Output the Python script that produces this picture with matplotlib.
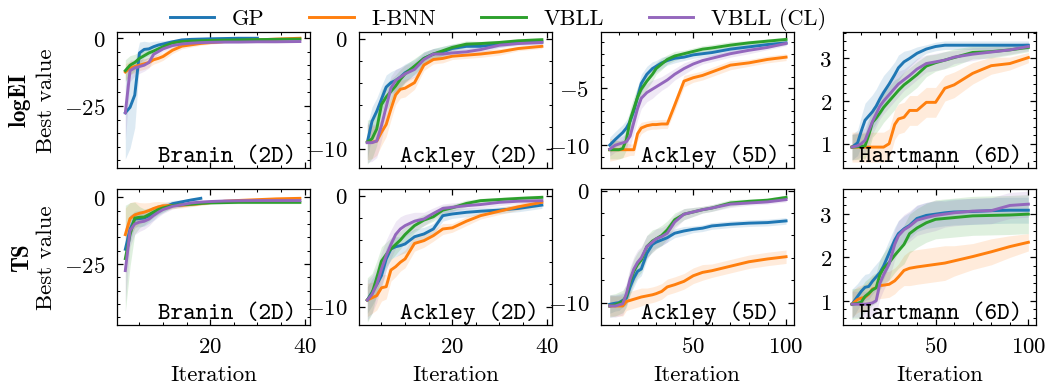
import numpy as np
import matplotlib.pyplot as plt
from matplotlib.ticker import MultipleLocator, AutoMinorLocator

plt.rcParams.update({
    "font.family": "serif",
    "font.serif": ["cmr10"],
    "mathtext.fontset": "cm",
    "axes.formatter.use_mathtext": True,
    "font.size": 11,
    "axes.linewidth": 0.6,
    "xtick.direction": "in",
    "ytick.direction": "in",
    "xtick.top": True,
    "ytick.right": True,
    "xtick.minor.visible": True,
    "ytick.minor.visible": True,
    "xtick.major.size": 3,
    "ytick.major.size": 3,
    "xtick.minor.size": 1.5,
    "ytick.minor.size": 1.5,
    "xtick.major.width": 0.6,
    "ytick.major.width": 0.6,
    "xtick.minor.width": 0.5,
    "ytick.minor.width": 0.5,
    "xtick.major.pad": 5.5,
    "ytick.major.pad": 5.5,
    "xtick.labelsize": 11,
    "ytick.labelsize": 11,
})

nan = np.nan

methods = ["GP", "I-BNN", "VBLL", "VBLL (CL)"]
colors = ["#1f77b4", "#ff7f0e", "#2ca02c", "#9467bd"]

# iteration grids
iters_short = [2, 3, 4, 5, 6, 7, 8, 9, 10, 12, 14, 16, 18, 20, 23, 26, 30, 34, 39]
iters_long = [5, 8, 10, 12, 14, 16, 18, 20, 22, 25, 28, 30, 33, 36, 40, 45, 50, 55, 60, 70, 80, 90, 100]

# ---- logEI, Branin (2D)
ei_branin_gp = [-27.5, -25.5, -21, -5.5, -4.2, -4.0, -3.2, -2.6, -2.2, -1.4, -0.7, -0.5, -0.4, -0.3, -0.2, -0.1, -0.1, nan, nan]
ei_branin_gp_sd = [17, 15, 12, 4, 3, 2.5, 2, 1.5, 1.2, 0.8, 0.5, 0.4, 0.3, 0.3, 0.2, 0.2, 0.2, nan, nan]
ei_branin_ibnn = [-12.5, -11, -10.5, -10, -9.5, -9, -8, -7.5, -6.8, -4.5, -3, -2.5, -2, -1.7, -1.3, -1, -0.7, -0.4, -0.1]
ei_branin_ibnn_sd = [3, 2.5, 2.2, 2, 2, 1.8, 1.6, 1.5, 1.4, 1.2, 1, 0.8, 0.7, 0.6, 0.5, 0.4, 0.3, 0.3, 0.2]
ei_branin_vbll = [-12, -10, -9, -7.5, -6.5, -5.5, -4.8, -4, -3.2, -1.8, -1.3, -1.1, -1, -0.9, -0.8, -0.7, -0.6, -0.5, -0.4]
ei_branin_vbll_sd = [4, 3.5, 3, 2.5, 2, 1.8, 1.5, 1.3, 1, 0.8, 0.6, 0.5, 0.5, 0.4, 0.4, 0.3, 0.3, 0.3, 0.3]
ei_branin_cl = [-27.5, -12, -11, -10.5, -10, -9, -6, -5, -4, -2.8, -2.2, -1.9, -1.7, -1.6, -1.5, -1.5, -1.4, -1.4, -1.3]
ei_branin_cl_sd = [10, 4, 3, 2.5, 2.2, 2, 1.5, 1.2, 1, 0.8, 0.6, 0.5, 0.4, 0.4, 0.4, 0.3, 0.3, 0.3, 0.3]

# ---- logEI, Ackley (2D)
ei_ack2_gp = [-9.4, -7.5, -6.6, -5.5, -4.4, -4.0, -3.8, -3.5, -3.1, -2.6, -1.8, -1.4, -1.2, -0.9, -0.7, -0.7, -0.5, -0.3, -0.3]
ei_ack2_gp_sd = [1.5, 1.3, 1.2, 1.2, 1.1, 1, 1, 0.9, 0.8, 0.7, 0.6, 0.5, 0.5, 0.4, 0.3, 0.3, 0.3, 0.2, 0.2]
ei_ack2_ibnn = [-9.4, -9.4, -9.3, -8.5, -7.8, -6.4, -5.1, -4.6, -4.5, -4.0, -2.4, -1.9, -1.8, -1.6, -1.5, -1.4, -1.2, -0.9, -0.7]
ei_ack2_ibnn_sd = [1.6, 1.5, 1.3, 1.2, 1.1, 1, 0.9, 0.8, 0.8, 0.6, 0.5, 0.4, 0.4, 0.3, 0.3, 0.3, 0.3, 0.2, 0.2]
ei_ack2_vbll = [-9.4, -9.1, -8.2, -6.0, -5.3, -4.8, -4.3, -3.7, -3.2, -2.5, -1.8, -1.4, -1.1, -0.8, -0.5, -0.45, -0.35, -0.2, -0.1]
ei_ack2_vbll_sd = [2, 1.8, 1.5, 1.3, 1.2, 1.1, 1, 0.9, 0.8, 0.7, 0.6, 0.5, 0.4, 0.3, 0.3, 0.2, 0.2, 0.2, 0.2]
ei_ack2_cl = [-9.45, -9.45, -9.3, -7.9, -6.2, -4.5, -3.8, -3.5, -3.2, -2.8, -1.9, -1.4, -1.4, -1.3, -1.2, -1.0, -0.6, -0.45, -0.35]
ei_ack2_cl_sd = [1.8, 1.7, 1.5, 1.3, 1.2, 1.1, 1, 0.9, 0.8, 0.7, 0.6, 0.5, 0.4, 0.3, 0.3, 0.3, 0.2, 0.2, 0.2]

# ---- logEI, Ackley (5D)
ei_ack5_gp = [-10, -9.5, -9.2, -8.9, -8.5, -7.9, -7.0, -5.8, -4.6, -3.8, -3.3, -3.1, -2.8, -2.6, -2.4, -2.3, -2.1, -2.0, -1.9, -1.6, -1.4, -1.2, -1.05]
ei_ack5_gp_sd = [0.7, 0.7, 0.7, 0.7, 0.7, 0.8, 0.9, 0.9, 0.8, 0.7, 0.6, 0.5, 0.5, 0.4, 0.4, 0.3, 0.3, 0.3, 0.3, 0.3, 0.3, 0.2, 0.2]
ei_ack5_ibnn = [-10.4, -10.4, -10.4, -10.4, -10.4, -10.4, -10.4, -9.0, -8.5, -8.3, -8.2, -8.2, -8.15, -8.15, -6.5, -4.4, -4.1, -3.9, -3.6, -3.0, -2.8, -2.5, -2.3]
ei_ack5_ibnn_sd = [1, 0.9, 0.8, 0.7, 0.6, 0.5, 0.5, 0.6, 0.5, 0.4, 0.4, 0.4, 0.4, 0.4, 0.5, 0.5, 0.4, 0.4, 0.4, 0.4, 0.3, 0.3, 0.3]
ei_ack5_vbll = [-10.4, -10.4, -10.4, -10.3, -9.5, -7.8, -6.8, -5.8, -5.1, -4.4, -3.8, -3.3, -2.9, -2.5, -2.2, -2.0, -1.8, -1.6, -1.5, -1.25, -1.05, -0.9, -0.75]
ei_ack5_vbll_sd = [0.8, 0.8, 0.8, 0.8, 0.9, 1.0, 1.0, 0.9, 0.8, 0.7, 0.6, 0.5, 0.5, 0.4, 0.4, 0.3, 0.3, 0.3, 0.3, 0.3, 0.2, 0.2, 0.2]
ei_ack5_cl = [-10.35, -10.0, -9.9, -9.8, -9.7, -9.2, -8.0, -6.8, -5.9, -5.4, -5.1, -4.9, -4.6, -4.3, -3.8, -3.3, -2.9, -2.6, -2.4, -2.0, -1.7, -1.45, -1.1]
ei_ack5_cl_sd = [0.6, 0.6, 0.6, 0.6, 0.7, 0.9, 1.0, 1.0, 0.9, 0.8, 0.8, 0.7, 0.6, 0.6, 0.5, 0.5, 0.4, 0.3, 0.3, 0.3, 0.3, 0.2, 0.2]

# ---- logEI, Hartmann (6D)
ei_hart_gp = [0.92, 1.02, 1.3, 1.55, 1.65, 1.75, 1.88, 2.05, 2.2, 2.4, 2.62, 2.78, 2.92, 3.0, 3.12, 3.22, 3.28, 3.31, 3.31, 3.31, 3.31, 3.31, 3.31]
ei_hart_gp_sd = [0.3, 0.3, 0.35, 0.4, 0.4, 0.4, 0.4, 0.4, 0.4, 0.35, 0.3, 0.3, 0.25, 0.2, 0.15, 0.1, 0.1, 0.1, 0.1, 0.1, 0.1, 0.1, 0.1]
ei_hart_ibnn = [0.92, 0.92, 0.92, 0.92, 0.92, 0.92, 0.92, 0.92, 0.92, 1.0, 1.45, 1.58, 1.62, 1.78, 1.78, 1.97, 1.97, 2.3, 2.38, 2.65, 2.83, 2.88, 3.02]
ei_hart_ibnn_sd = [0.35, 0.35, 0.35, 0.35, 0.35, 0.35, 0.35, 0.35, 0.35, 0.35, 0.35, 0.35, 0.35, 0.35, 0.35, 0.35, 0.35, 0.3, 0.3, 0.25, 0.2, 0.15, 0.12]
ei_hart_vbll = [0.92, 0.93, 0.94, 0.95, 1.2, 1.5, 1.6, 1.72, 1.85, 2.0, 2.15, 2.25, 2.38, 2.48, 2.62, 2.82, 2.9, 2.96, 3.02, 3.14, 3.16, 3.2, 3.26]
ei_hart_vbll_sd = [0.3, 0.3, 0.3, 0.3, 0.35, 0.35, 0.35, 0.35, 0.35, 0.35, 0.35, 0.3, 0.3, 0.3, 0.3, 0.25, 0.2, 0.2, 0.2, 0.15, 0.15, 0.12, 0.1]
ei_hart_cl = [0.92, 0.95, 1.0, 1.08, 1.3, 1.52, 1.7, 1.88, 2.0, 2.15, 2.3, 2.4, 2.5, 2.6, 2.75, 2.88, 2.92, 2.96, 3.03, 3.1, 3.15, 3.2, 3.28]
ei_hart_cl_sd = [0.3, 0.3, 0.3, 0.3, 0.3, 0.3, 0.3, 0.3, 0.3, 0.3, 0.3, 0.3, 0.25, 0.25, 0.25, 0.2, 0.2, 0.2, 0.15, 0.15, 0.12, 0.1, 0.1]

# ---- TS, Branin (2D)
ts_branin_gp = [-19.5, -12, -8.2, -8.0, -7.8, -7.0, -6.0, -4.8, -4.0, -2.4, -1.7, -1.0, -0.4, nan, nan, nan, nan, nan, nan]
ts_branin_gp_sd = [8, 5, 3, 3, 3, 2.8, 2.5, 2, 1.8, 1.2, 0.8, 0.6, 0.4, nan, nan, nan, nan, nan, nan]
ts_branin_ibnn = [-14, -8, -6.6, -6.0, -5.6, -5.0, -4.2, -3.6, -3.2, -3.1, -3.0, -2.7, -2.4, -2.0, -1.5, -1.2, -0.9, -0.6, -0.4]
ts_branin_ibnn_sd = [10, 6, 5, 4, 3.5, 3, 2.5, 2, 1.5, 1.2, 1, 0.8, 0.6, 0.5, 0.4, 0.4, 0.3, 0.3, 0.3]
ts_branin_vbll = [-23, -14, -7.8, -7.5, -7.4, -6.5, -5.5, -4.6, -4.0, -3.1, -2.8, -2.6, -2.3, -2.1, -2.0, -1.9, -1.9, -1.9, -1.9]
ts_branin_vbll_sd = [20, 12, 6, 4, 3, 2.5, 2, 1.8, 1.5, 1, 0.8, 0.7, 0.6, 0.6, 0.5, 0.5, 0.5, 0.5, 0.5]
ts_branin_cl = [-27.5, -12.5, -10, -9.3, -9.0, -8.2, -6.8, -5.6, -4.6, -3.4, -2.8, -2.1, -1.8, -1.6, -1.4, -1.3, -1.25, -1.25, -1.25]
ts_branin_cl_sd = [12, 6, 4, 3.5, 3, 2.5, 2, 1.8, 1.5, 1, 0.8, 0.6, 0.5, 0.4, 0.4, 0.4, 0.3, 0.3, 0.3]

# ---- TS, Ackley (2D)
ts_ack2_gp = [-9.4, -8.7, -8.0, -7.2, -5.7, -4.8, -4.6, -4.5, -4.35, -3.7, -3.45, -3.0, -1.8, -1.65, -1.5, -1.4, -1.3, -1.15, -0.85]
ts_ack2_gp_sd = [1.2, 1.2, 1.1, 1.1, 1, 0.9, 0.9, 0.8, 0.8, 0.7, 0.6, 0.5, 0.5, 0.4, 0.4, 0.3, 0.3, 0.3, 0.3]
ts_ack2_ibnn = [-9.4, -9.2, -9.0, -8.3, -8.2, -6.7, -6.4, -6.0, -5.7, -4.3, -4.05, -3.6, -3.0, -2.9, -2.3, -1.8, -1.4, -1.0, -0.6]
ts_ack2_ibnn_sd = [1.5, 1.4, 1.3, 1.2, 1.1, 1, 0.9, 0.8, 0.8, 0.7, 0.6, 0.5, 0.5, 0.4, 0.4, 0.3, 0.3, 0.3, 0.3]
ts_ack2_vbll = [-9.4, -8.8, -7.4, -5.9, -5.3, -4.8, -4.4, -4.0, -3.5, -2.7, -2.2, -1.9, -1.3, -1.1, -0.7, -0.45, -0.35, -0.25, -0.15]
ts_ack2_vbll_sd = [2, 1.8, 1.5, 1.3, 1.1, 1, 0.9, 0.8, 0.7, 0.6, 0.5, 0.4, 0.4, 0.3, 0.3, 0.2, 0.2, 0.2, 0.2]
ts_ack2_cl = [-9.4, -8.9, -8.0, -6.6, -5.4, -4.4, -3.5, -3.0, -2.7, -2.3, -2.1, -1.6, -1.15, -1.05, -0.9, -0.8, -0.6, -0.5, -0.45]
ts_ack2_cl_sd = [1.8, 1.7, 1.6, 1.5, 1.4, 1.3, 1.2, 1.1, 1, 0.8, 0.6, 0.5, 0.4, 0.4, 0.3, 0.3, 0.3, 0.2, 0.2]

# ---- TS, Ackley (5D)
ts_ack5_gp = [-10.15, -10.05, -10.0, -9.8, -9.6, -8.6, -7.8, -7.2, -7.0, -5.6, -4.8, -4.6, -4.4, -4.2, -3.8, -3.6, -3.45, -3.35, -3.15, -3.0, -2.9, -2.85, -2.7]
ts_ack5_gp_sd = [0.8, 0.7, 0.7, 0.6, 0.6, 0.7, 0.8, 0.7, 0.6, 0.6, 0.5, 0.5, 0.5, 0.4, 0.4, 0.4, 0.3, 0.3, 0.3, 0.3, 0.3, 0.3, 0.3]
ts_ack5_ibnn = [-10.3, -10.3, -10.3, -10.3, -9.9, -9.8, -9.7, -9.6, -9.5, -9.4, -9.3, -9.2, -9.0, -8.6, -8.4, -8.1, -7.6, -7.3, -7.15, -6.75, -6.35, -6.1, -5.9]
ts_ack5_ibnn_sd = [0.9, 0.9, 0.9, 0.9, 0.8, 0.8, 0.8, 0.8, 0.8, 0.7, 0.7, 0.7, 0.7, 0.7, 0.7, 0.7, 0.7, 0.7, 0.6, 0.6, 0.6, 0.6, 0.6]
ts_ack5_vbll = [-10.3, -10.2, -10.05, -9.9, -9.4, -8.1, -7.2, -6.6, -6.2, -5.0, -4.5, -4.3, -4.0, -3.5, -2.6, -2.1, -1.9, -1.7, -1.55, -1.1, -0.95, -0.85, -0.6]
ts_ack5_vbll_sd = [1, 1, 1, 1, 1, 1.1, 1.1, 1.1, 1.1, 1, 1, 0.9, 0.9, 0.8, 0.6, 0.5, 0.4, 0.3, 0.3, 0.3, 0.2, 0.2, 0.2]
ts_ack5_cl = [-10.3, -10.3, -10.2, -10.1, -9.2, -7.9, -7.0, -6.4, -6.0, -5.0, -4.6, -4.3, -4.1, -3.8, -2.8, -2.1, -1.9, -1.7, -1.55, -1.2, -1.1, -1.0, -0.8]
ts_ack5_cl_sd = [1, 1, 1, 1, 1, 1.1, 1.1, 1.1, 1, 1, 0.9, 0.9, 0.8, 0.8, 0.6, 0.5, 0.4, 0.3, 0.3, 0.3, 0.2, 0.2, 0.2]

# ---- TS, Hartmann (6D)
ts_hart_gp = [0.92, 1.1, 1.22, 1.31, 1.33, 1.45, 1.55, 1.65, 1.8, 2.1, 2.4, 2.55, 2.66, 2.74, 2.9, 2.97, 3.0, 3.03, 3.05, 3.06, 3.08, 3.09, 3.09]
ts_hart_gp_sd = [0.35, 0.3, 0.3, 0.3, 0.3, 0.3, 0.3, 0.3, 0.3, 0.3, 0.3, 0.3, 0.3, 0.3, 0.3, 0.3, 0.3, 0.3, 0.3, 0.3, 0.3, 0.3, 0.3]
ts_hart_ibnn = [0.92, 1.03, 1.06, 1.08, 1.15, 1.27, 1.3, 1.35, 1.36, 1.38, 1.46, 1.55, 1.7, 1.75, 1.78, 1.81, 1.84, 1.87, 1.92, 2.02, 2.13, 2.25, 2.35]
ts_hart_ibnn_sd = [0.3, 0.3, 0.3, 0.3, 0.3, 0.3, 0.3, 0.3, 0.3, 0.3, 0.3, 0.3, 0.35, 0.4, 0.4, 0.4, 0.4, 0.4, 0.35, 0.3, 0.3, 0.25, 0.2]
ts_hart_vbll = [0.92, 0.94, 0.97, 1.1, 1.17, 1.25, 1.3, 1.6, 1.75, 1.88, 2.05, 2.15, 2.3, 2.55, 2.68, 2.8, 2.88, 2.9, 2.92, 2.96, 2.97, 2.98, 3.0]
ts_hart_vbll_sd = [0.35, 0.35, 0.35, 0.35, 0.35, 0.35, 0.35, 0.35, 0.35, 0.4, 0.4, 0.4, 0.45, 0.45, 0.45, 0.45, 0.45, 0.45, 0.45, 0.45, 0.45, 0.45, 0.45]
ts_hart_cl = [0.92, 0.92, 0.92, 0.92, 0.93, 0.95, 1.0, 1.4, 1.6, 1.85, 2.3, 2.5, 2.64, 2.72, 2.86, 2.92, 2.97, 3.0, 3.03, 3.07, 3.08, 3.2, 3.23]
ts_hart_cl_sd = [0.3, 0.3, 0.3, 0.3, 0.3, 0.3, 0.3, 0.35, 0.35, 0.35, 0.35, 0.35, 0.35, 0.35, 0.35, 0.35, 0.35, 0.3, 0.3, 0.3, 0.3, 0.3, 0.3]

panel_titles = ["Branin (2D)", "Ackley (2D)", "Ackley (5D)", "Hartmann (6D)"]
row_names = ["logEI", "TS"]
col_iters = [iters_short, iters_short, iters_long, iters_long]
col_xlim = [(0.3, 41.1), (0.3, 41.1), (0.3, 104), (0.3, 104)]
col_xstep = [20, 20, 50, 50]

panels = [
    [
        ([ei_branin_gp, ei_branin_ibnn, ei_branin_vbll, ei_branin_cl],
         [ei_branin_gp_sd, ei_branin_ibnn_sd, ei_branin_vbll_sd, ei_branin_cl_sd]),
        ([ei_ack2_gp, ei_ack2_ibnn, ei_ack2_vbll, ei_ack2_cl],
         [ei_ack2_gp_sd, ei_ack2_ibnn_sd, ei_ack2_vbll_sd, ei_ack2_cl_sd]),
        ([ei_ack5_gp, ei_ack5_ibnn, ei_ack5_vbll, ei_ack5_cl],
         [ei_ack5_gp_sd, ei_ack5_ibnn_sd, ei_ack5_vbll_sd, ei_ack5_cl_sd]),
        ([ei_hart_gp, ei_hart_ibnn, ei_hart_vbll, ei_hart_cl],
         [ei_hart_gp_sd, ei_hart_ibnn_sd, ei_hart_vbll_sd, ei_hart_cl_sd]),
    ],
    [
        ([ts_branin_gp, ts_branin_ibnn, ts_branin_vbll, ts_branin_cl],
         [ts_branin_gp_sd, ts_branin_ibnn_sd, ts_branin_vbll_sd, ts_branin_cl_sd]),
        ([ts_ack2_gp, ts_ack2_ibnn, ts_ack2_vbll, ts_ack2_cl],
         [ts_ack2_gp_sd, ts_ack2_ibnn_sd, ts_ack2_vbll_sd, ts_ack2_cl_sd]),
        ([ts_ack5_gp, ts_ack5_ibnn, ts_ack5_vbll, ts_ack5_cl],
         [ts_ack5_gp_sd, ts_ack5_ibnn_sd, ts_ack5_vbll_sd, ts_ack5_cl_sd]),
        ([ts_hart_gp, ts_hart_ibnn, ts_hart_vbll, ts_hart_cl],
         [ts_hart_gp_sd, ts_hart_ibnn_sd, ts_hart_vbll_sd, ts_hart_cl_sd]),
    ],
]

ylims = [
    [(-47.8, 2.2), (-11.75, 0.6), (-12, -0.1), (0.43, 3.62)],
    [(-47.9, 3.1), (-11.65, 0.6), (-12, 0.15), (0.44, 3.58)],
]
ysteps = [[25, 10, 5, 1], [25, 10, 10, 1]]

W, H = 1049, 388
fig = plt.figure(figsize=(W / 150, H / 150), dpi=150)

lefts = [117.3, 359.3, 601, 843.3]
tops = [33, 190]
ax_w, ax_h = 192.5, 136

handles = []
for r in range(2):
    for c in range(4):
        ax = fig.add_axes([lefts[c] / W, 1 - (tops[r] + ax_h) / H, ax_w / W, ax_h / H])
        x = np.array(col_iters[c])
        means, sds = panels[r][c]
        for m, s, col in zip(means, sds, colors):
            m = np.array(m)
            s = np.array(s)
            ax.fill_between(x, m - s, m + s, color=col, alpha=0.15, lw=0)
        for m, col, name in zip(means, colors, methods):
            line, = ax.plot(x, m, color=col, lw=1.4, label=name)
            if r == 0 and c == 0:
                handles.append(line)
        ax.set_xlim(col_xlim[c])
        ax.set_ylim(ylims[r][c])
        ax.xaxis.set_major_locator(MultipleLocator(col_xstep[c]))
        ax.xaxis.set_minor_locator(AutoMinorLocator())
        ax.yaxis.set_major_locator(MultipleLocator(ysteps[r][c]))
        ax.yaxis.set_minor_locator(AutoMinorLocator())
        ax.text(0.93, 0.055, panel_titles[c], transform=ax.transAxes,
                ha="right", va="baseline", family="cmtt10", fontsize=11.5)
        if r == 0:
            ax.tick_params(labelbottom=False)
        else:
            ax.set_xlabel("Iteration")
        if c == 0:
            ax.set_ylabel("$\\mathbf{" + row_names[r] + "}$\nBest value")

fig.legend(handles, methods, loc="upper center", bbox_to_anchor=(498 / W, 1.03),
           ncol=4, frameon=False, fontsize=10.7)

fig.savefig("out.png", dpi=150)
